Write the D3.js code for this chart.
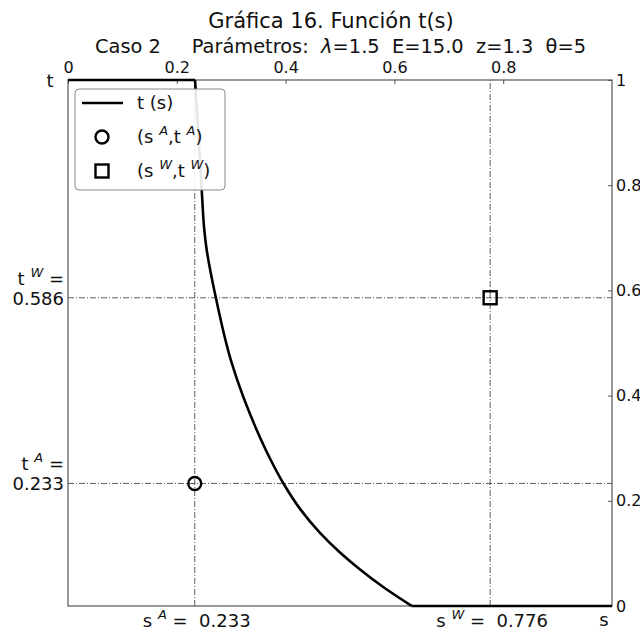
<!DOCTYPE html>
<html>
<head>
<meta charset="utf-8">
<script src="https://cdn.jsdelivr.net/npm/d3@7"></script>
<style>
  html, body { margin: 0; padding: 0; background: #fff; }
  svg { display: block; font-family: "DejaVu Sans", sans-serif; }
</style>
</head>
<body>
<div id="chart"></div>
<script>
// Curve t(s)
const sValues = [0, 0.2335, 0.2458, 0.2506, 0.2537, 0.2715, 0.3009, 0.3469, 0.3713, 0.3958, 0.4265, 0.4632, 0.5000, 0.5368, 0.5827, 0.6318, 1];
const tValues = [1, 1, 0.7909, 0.7148, 0.6863, 0.5875, 0.4620, 0.3346, 0.2804, 0.2333, 0.1846, 0.1390, 0.1017, 0.0694, 0.0337, 0, 0];

// Marked points
const pointA = { s: 0.233, t: 0.233 };
const pointW = { s: 0.776, t: 0.586 };

// Tick labels
const sTicks = [0, 0.2, 0.4, 0.6, 0.8];
const tTicks = [0, 0.2, 0.4, 0.6, 0.8, 1];

const titleText = "Gráfica 16. Función t(s)";

const W = 640, H = 633;
const plotL = 68, plotR = 612, plotT = 80, plotB = 606;

const svg = d3.select("#chart").append("svg")
  .attr("width", W).attr("height", H);

svg.append("rect").attr("width", W).attr("height", H).attr("fill", "#fff");

const x = d3.scaleLinear().domain([0, 1]).range([plotL, plotR]);
const y = d3.scaleLinear().domain([0, 1]).range([plotB, plotT]);

// Title and subtitle
svg.append("text").attr("x", 331).attr("y", 28)
  .attr("text-anchor", "middle").attr("font-size", 21).attr("fill", "#111")
  .text(titleText);

const sub = svg.append("text").attr("x", 95).attr("y", 53)
  .attr("font-size", 19.4).attr("fill", "#111").attr("xml:space", "preserve");
sub.append("tspan").text("Caso 2     Parámetros:  ");
sub.append("tspan").attr("font-style", "italic").text("λ");
sub.append("tspan").text("=1.5  E=15.0  z=1.3  θ=5");

// Reference lines (dash-dot)
const refStyle = sel => sel.attr("stroke", "#333").attr("stroke-width", 0.8)
  .attr("stroke-dasharray", "6,2,1,2").attr("fill", "none");

[pointA, pointW].forEach(p => {
  svg.append("line").attr("x1", x(p.s)).attr("x2", x(p.s))
    .attr("y1", y(0)).attr("y2", y(1)).call(refStyle);
  svg.append("line").attr("x1", x(0)).attr("x2", x(1))
    .attr("y1", y(p.t)).attr("y2", y(p.t)).call(refStyle);
});

// Frame
svg.append("rect").attr("x", plotL).attr("y", plotT)
  .attr("width", plotR - plotL).attr("height", plotB - plotT)
  .attr("fill", "none").attr("stroke", "#555").attr("stroke-width", 1.2);

// Top axis (s)
const topAxis = d3.axisTop(x).tickValues(sTicks)
  .tickFormat(d => d === 0 ? "0" : d3.format(".1f")(d))
  .tickSizeInner(-4).tickSizeOuter(0).tickPadding(7);
const gTop = svg.append("g").attr("transform", `translate(0,${plotT})`).call(topAxis);
gTop.select(".domain").remove();
gTop.selectAll("line").attr("stroke", "#555");
gTop.selectAll("text").attr("font-size", 16).attr("fill", "#111")
  .attr("font-family", "DejaVu Sans, sans-serif");

// Right axis (t)
const rightAxis = d3.axisRight(y).tickValues(tTicks)
  .tickFormat(d => (d === 0 || d === 1) ? String(d) : d3.format(".1f")(d))
  .tickSizeInner(-4).tickSizeOuter(0).tickPadding(4);
const gRight = svg.append("g").attr("transform", `translate(${plotR},0)`).call(rightAxis);
gRight.select(".domain").remove();
gRight.selectAll("line").attr("stroke", "#555");
gRight.selectAll("text").attr("font-size", 16).attr("fill", "#111")
  .attr("font-family", "DejaVu Sans, sans-serif");

// Axis names
svg.append("text").attr("x", 50).attr("y", 87).attr("text-anchor", "middle")
  .attr("font-size", 18).attr("fill", "#111").text("t");
svg.append("text").attr("x", 604).attr("y", 626).attr("text-anchor", "middle")
  .attr("font-size", 18).attr("fill", "#111").text("s");

// Curve: flat stretches drawn straight, descending stretch smoothed
const curveData = sValues.map((s, i) => ({ s, t: tValues[i] }));
const firstDrop = curveData.findIndex((d, i) => i > 0 && d.t < curveData[i - 1].t) - 1;
const lastDrop = curveData.findIndex(d => d.t === 0);
const lineLin = d3.line().x(d => x(d.s)).y(d => y(d.t));
const lineSmooth = d3.line().x(d => x(d.s)).y(d => y(d.t)).curve(d3.curveMonotoneY);
const curveStyle = sel => sel.attr("fill", "none").attr("stroke", "#000")
  .attr("stroke-width", 2.6).attr("stroke-linejoin", "round");
svg.append("path").datum(curveData.slice(0, firstDrop + 1)).attr("d", lineLin).call(curveStyle);
svg.append("path").datum(curveData.slice(firstDrop, lastDrop + 1)).attr("d", lineSmooth).call(curveStyle);
svg.append("path").datum(curveData.slice(lastDrop)).attr("d", lineLin).call(curveStyle);

// Markers
svg.append("circle").attr("cx", x(pointA.s)).attr("cy", y(pointA.t)).attr("r", 6.5)
  .attr("fill", "none").attr("stroke", "#000").attr("stroke-width", 2.4);
svg.append("rect").attr("x", x(pointW.s) - 6.5).attr("y", y(pointW.t) - 6.5)
  .attr("width", 13).attr("height", 13)
  .attr("fill", "none").attr("stroke", "#000").attr("stroke-width", 2.4);

// Helper: "base ^sup rest" labels
function supLabel(sel, base, sup, rest) {
  sel.append("tspan").text(base);
  sel.append("tspan").attr("dy", -8).attr("font-size", "0.72em")
    .attr("font-style", "italic").text(sup);
  sel.append("tspan").attr("dy", 8).text(rest);
}

// Left value labels
[[pointW, "W"], [pointA, "A"]].forEach(([p, k]) => {
  const yy = y(p.t);
  const l1 = svg.append("text").attr("x", 64).attr("y", yy - 13)
    .attr("text-anchor", "end").attr("font-size", 18).attr("fill", "#111")
    .attr("xml:space", "preserve");
  supLabel(l1, "t ", k, " =");
  svg.append("text").attr("x", 64).attr("y", yy + 7)
    .attr("text-anchor", "end").attr("font-size", 18).attr("fill", "#111")
    .text(d3.format(".3f")(p.t));
});

// Bottom value labels
[[pointA, "A"], [pointW, "W"]].forEach(([p, k]) => {
  const l = svg.append("text").attr("x", x(p.s) + 2).attr("y", 627)
    .attr("text-anchor", "middle").attr("font-size", 18).attr("fill", "#111")
    .attr("xml:space", "preserve");
  supLabel(l, "s ", k, " =  " + d3.format(".3f")(p.s));
});

// Legend
const lg = svg.append("g");
lg.append("rect").attr("x", 75).attr("y", 89).attr("width", 150).attr("height", 101)
  .attr("rx", 4).attr("fill", "#fff").attr("fill-opacity", 0.9)
  .attr("stroke", "#888").attr("stroke-width", 1);
lg.append("line").attr("x1", 82).attr("x2", 123).attr("y1", 103).attr("y2", 103)
  .attr("stroke", "#000").attr("stroke-width", 2.6);
lg.append("text").attr("x", 137).attr("y", 109).attr("font-size", 18).attr("fill", "#111")
  .text("t (s)");
lg.append("circle").attr("cx", 102).attr("cy", 137).attr("r", 6.5)
  .attr("fill", "none").attr("stroke", "#000").attr("stroke-width", 2.4);
const la = lg.append("text").attr("x", 137).attr("y", 143).attr("font-size", 18)
  .attr("fill", "#111").attr("xml:space", "preserve");
supLabel(la, "(s ", "A", ",t ");
la.append("tspan").attr("dy", -8).attr("font-size", "0.72em").attr("font-style", "italic").text("A");
la.append("tspan").attr("dy", 8).text(")");
lg.append("rect").attr("x", 95.5).attr("y", 164.5).attr("width", 13).attr("height", 13)
  .attr("fill", "none").attr("stroke", "#000").attr("stroke-width", 2.4);
const lw = lg.append("text").attr("x", 137).attr("y", 177).attr("font-size", 18)
  .attr("fill", "#111").attr("xml:space", "preserve");
supLabel(lw, "(s ", "W", ",t ");
lw.append("tspan").attr("dy", -8).attr("font-size", "0.72em").attr("font-style", "italic").text("W");
lw.append("tspan").attr("dy", 8).text(")");
</script>
</body>
</html>
